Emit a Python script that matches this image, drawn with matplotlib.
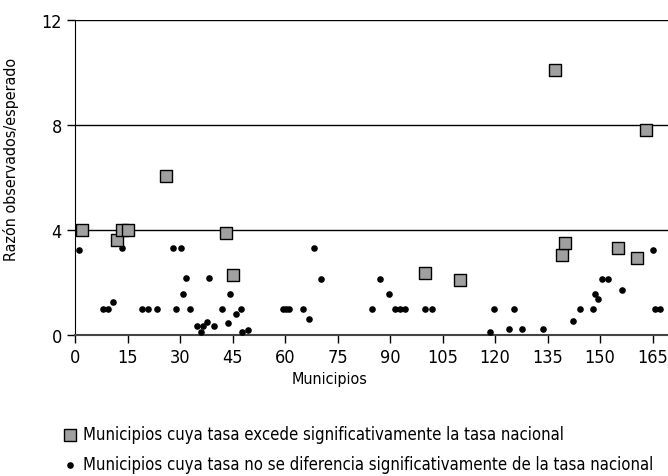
import matplotlib.pyplot as plt

plt.rcParams['font.family'] = ['DejaVu Sans']
plt.rcParams['font.stretch'] = 'condensed'

# municipios cuya tasa excede significativamente la tasa nacional
Excede_x = [2, 12, 13.5, 15, 26, 43, 45, 100, 110, 137, 139, 140, 155, 160.5, 163]
Excede_y = [4.0, 3.6, 4.0, 4.0, 6.05, 3.87, 2.28, 2.37, 2.09, 10.08, 3.03, 3.49, 3.33, 2.93, 7.82]

# municipios que no se diferencian
NoDif_x = [1.2, 7.9, 9.3, 10.9, 13.3, 19.1, 20.8, 23.3, 27.9, 28.9, 30.3, 30.9, 31.7, 32.9,
           34.8, 35.9, 36.7, 37.6, 38.4, 39.7, 42, 43.8, 44.2, 46, 47.5, 47.7, 49.3,
           59.5, 60.3, 61, 65.2, 66.8, 68.4, 70.3, 84.8, 87.1, 89.7, 91.5, 92.9, 94.2,
           100, 101.9, 118.6, 119.8, 123.9, 125.4, 127.7, 133.6, 142.2, 144.3, 148,
           148.6, 149.5, 150.5, 152.2, 156.4, 165.2, 165.7, 167.1]
NoDif_y = [3.22, 1.0, 1.0, 1.25, 3.32, 1.0, 1.0, 1.0, 3.32, 1.0, 3.32, 1.56, 2.17, 1.0,
           0.35, 0.13, 0.35, 0.51, 2.17, 0.35, 1.0, 0.45, 1.56, 0.8, 1.0, 0.13, 0.2,
           1.0, 1.0, 1.0, 1.0, 0.61, 3.31, 2.15, 1.0, 2.15, 1.56, 1.0, 1.0, 1.0,
           1.0, 1.0, 0.13, 1.0, 0.23, 1.0, 0.23, 0.23, 0.52, 1.0, 1.0,
           1.57, 1.39, 2.15, 2.15, 1.72, 3.23, 1.0, 1.0]

X_ticks = [0, 15, 30, 45, 60, 75, 90, 105, 120, 135, 150, 165]
Y_ticks = [0, 4, 8, 12]

fig = plt.figure(figsize=(6.68, 4.77), dpi=100)
ax = fig.add_axes([0.1123, 0.2956, 0.8877, 0.6604])

for g in [4, 8, 12]:
    ax.axhline(g, color="black", lw=1, zorder=1)

ax.scatter(NoDif_x, NoDif_y, s=14, color="black", zorder=3,
           label="Municipios cuya tasa no se diferencia significativamente de la tasa nacional")
ax.scatter(Excede_x, Excede_y, s=70, marker="s", facecolor="#a0a0a0", edgecolor="black",
           linewidth=1, zorder=4,
           label="Municipios cuya tasa excede significativamente la tasa nacional")

ax.set_xlim(0, 169.4)
ax.set_ylim(0, 12)
ax.set_xticks(X_ticks)
ax.set_yticks(Y_ticks)
ax.tick_params(labelsize=13, length=6, width=1, color="black")
ax.spines["top"].set_visible(False)
ax.spines["right"].set_visible(False)
ax.spines["left"].set_color("black")
ax.spines["bottom"].set_color("#444444")
ax.spines["bottom"].set_linewidth(1.5)

ax.set_xlabel("Municipios", fontsize=11.5)
ax.xaxis.set_label_coords(0.43, -0.115)
ax.set_ylabel("Razón observados/esperado", fontsize=11.5)
ax.yaxis.set_label_coords(-0.095, 0.56)

h, l = ax.get_legend_handles_labels()
fig.legend(h[::-1], l[::-1], loc="upper left", bbox_to_anchor=(0.092, 0.107),
           frameon=False, fontsize=12, handletextpad=0.3, labelspacing=0.75,
           handlelength=1.0, borderaxespad=0, borderpad=0)

plt.savefig("out.png", dpi=100)
